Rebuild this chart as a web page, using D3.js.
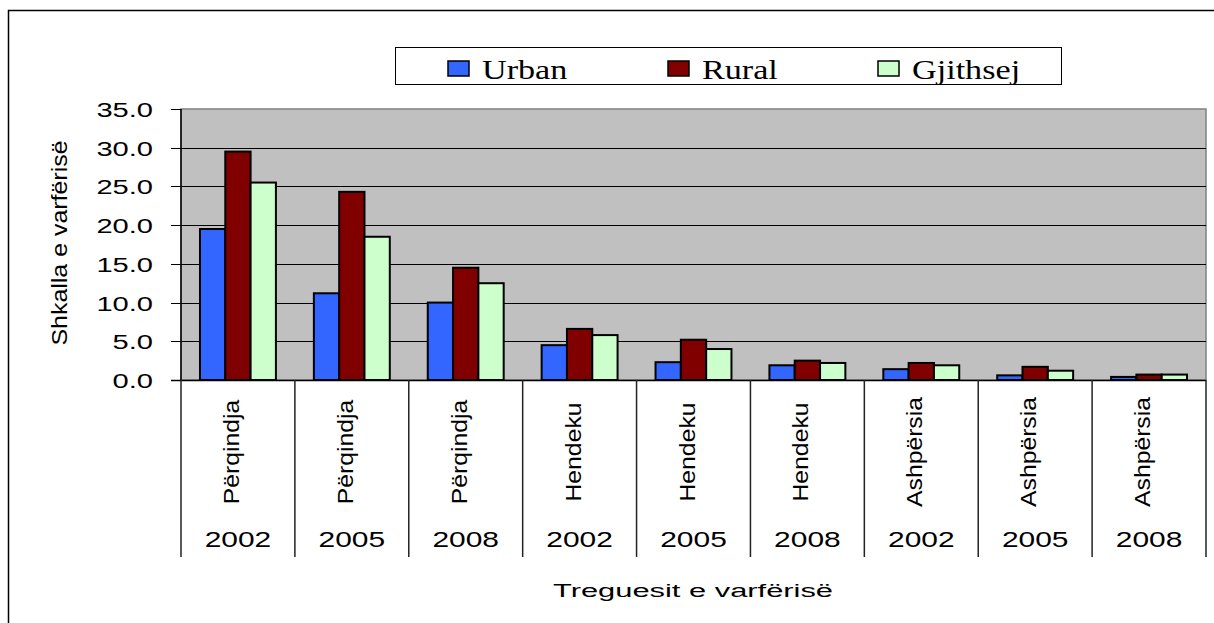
<!DOCTYPE html>
<html>
<head>
<meta charset="utf-8">
<script src="https://cdn.jsdelivr.net/npm/d3@7"></script>
<style>
  body { margin: 0; background: #fff; }
  text { font-family: "Liberation Sans", Arial, sans-serif; fill: #000; }
</style>
</head>
<body>
<svg width="1214" height="623"></svg>
<script>
const svg = d3.select("svg"),
    width = +svg.attr("width"),
    height = +svg.attr("height");

// data
const indicators = ["Përqindja", "Përqindja", "Përqindja", "Hendeku", "Hendeku", "Hendeku", "Ashpërsia", "Ashpërsia", "Ashpërsia"];
const years = ["2002", "2005", "2008", "2002", "2005", "2008", "2002", "2005", "2008"];
const urban = [19.5, 11.2, 10.0, 4.5, 2.3, 1.9, 1.4, 0.6, 0.4];
const rural = [29.5, 24.3, 14.5, 6.6, 5.2, 2.5, 2.2, 1.7, 0.7];
const gjithsej = [25.5, 18.5, 12.5, 5.8, 4.0, 2.2, 1.9, 1.2, 0.7];
const seriesNames = ["Urban", "Rural", "Gjithsej"];
const seriesColors = ["#3366FF", "#800000", "#CCFFCC"];
const yTicks = [0, 5, 10, 15, 20, 25, 30, 35];

const series = [urban, rural, gjithsej];
const idx = d3.range(indicators.length);

const plot = {left: 181, top: 109, right: 1206, bottom: 380};

// outer frame (runs off the page right and bottom)
svg.append("rect")
    .attr("x", 8.5).attr("y", 10.5)
    .attr("width", 1300).attr("height", 700)
    .attr("fill", "none")
    .attr("stroke", "#000")
    .attr("stroke-width", 1.5);

const x = d3.scaleBand()
    .domain(idx)
    .range([plot.left, plot.right])
    .padding(0);

const xSub = d3.scaleBand()
    .domain(d3.range(series.length))
    .range([0, x.bandwidth()])
    .paddingInner(0)
    .paddingOuter(0.75);

const y = d3.scaleLinear()
    .domain([0, 35])
    .range([plot.bottom, plot.top]);

// plot area
svg.append("rect")
    .attr("x", plot.left).attr("y", plot.top)
    .attr("width", plot.right - plot.left)
    .attr("height", plot.bottom - plot.top)
    .attr("fill", "#C0C0C0")
    .attr("stroke", "#808080")
    .attr("stroke-width", 1.5);

// gridlines
svg.append("g")
    .selectAll("line")
    .data(yTicks.filter(d => d > 0 && d < 35))
    .join("line")
        .attr("x1", plot.left).attr("x2", plot.right)
        .attr("y1", d => Math.round(y(d)) + 0.5)
        .attr("y2", d => Math.round(y(d)) + 0.5)
        .attr("stroke", "#000")
        .attr("stroke-width", 1);

// bars
svg.append("g")
    .selectAll("g")
    .data(series)
    .join("g")
        .attr("fill", (d, i) => seriesColors[i])
        .each(function(vals, si) {
            d3.select(this).selectAll("rect")
                .data(vals)
                .join("rect")
                    .attr("x", (d, i) => x(i) + xSub(si))
                    .attr("y", d => y(d))
                    .attr("width", xSub.bandwidth())
                    .attr("height", d => y(0) - y(d))
                    .attr("stroke", "#000")
                    .attr("stroke-width", 2);
        });

// y axis
svg.append("line")
    .attr("x1", plot.left).attr("x2", plot.left)
    .attr("y1", plot.top).attr("y2", plot.bottom)
    .attr("stroke", "#000").attr("stroke-width", 1.5);

const yTickG = svg.append("g")
    .selectAll("g")
    .data(yTicks)
    .join("g")
        .attr("transform", d => `translate(0,${Math.round(y(d)) + 0.5})`);

yTickG.append("line")
    .attr("x1", plot.left - 10).attr("x2", plot.left)
    .attr("stroke", "#000").attr("stroke-width", 1);

yTickG.append("text")
    .attr("transform", "translate(153,0) scale(1.42,1)")
    .attr("text-anchor", "end")
    .attr("dy", "0.35em")
    .style("font-size", "20.5px")
    .text(d => d.toFixed(1));

// x axis line
svg.append("line")
    .attr("x1", plot.left - 10).attr("x2", plot.right)
    .attr("y1", plot.bottom + 0.5).attr("y2", plot.bottom + 0.5)
    .attr("stroke", "#000").attr("stroke-width", 1.5);

// category separators
svg.append("g")
    .selectAll("line")
    .data(d3.range(indicators.length + 1))
    .join("line")
        .attr("x1", d => plot.left + d * x.step())
        .attr("x2", d => plot.left + d * x.step())
        .attr("y1", plot.bottom).attr("y2", 557)
        .attr("stroke", "#222").attr("stroke-width", 1.5);

// rotated indicator labels
svg.append("g")
    .selectAll("text")
    .data(idx)
    .join("text")
        .attr("transform", i => `translate(${x(i) + x.bandwidth() / 2 + 1},452) rotate(-90)`)
        .attr("text-anchor", "middle")
        .style("font-size", "21.5px")
        .text(i => indicators[i])
        .each(function() {
            const len = this.getComputedTextLength();
            d3.select(this)
                .attr("textLength", len * 1.15)
                .attr("lengthAdjust", "spacingAndGlyphs");
        });

// year labels
svg.append("g")
    .selectAll("text")
    .data(idx)
    .join("text")
        .attr("transform", i => `translate(${x(i) + x.bandwidth() / 2},547) scale(1.36,1)`)
        .attr("text-anchor", "middle")
        .style("font-size", "22px")
        .text(i => years[i]);

// axis titles
svg.append("text")
    .attr("x", 693).attr("y", 597)
    .attr("text-anchor", "middle")
    .attr("textLength", 280)
    .attr("lengthAdjust", "spacingAndGlyphs")
    .style("font-size", "18px")
    .text("Treguesit e varfërisë");

svg.append("text")
    .attr("transform", "translate(67,243) rotate(-90)")
    .attr("text-anchor", "middle")
    .attr("textLength", 205)
    .attr("lengthAdjust", "spacingAndGlyphs")
    .style("font-size", "22px")
    .text("Shkalla e varfërisë");

// legend
const legend = svg.append("g");
legend.append("rect")
    .attr("x", 395.5).attr("y", 47.5)
    .attr("width", 666).attr("height", 37)
    .attr("fill", "#fff")
    .attr("stroke", "#000").attr("stroke-width", 1);

const legendX = [448, 668, 878];
const item = legend.selectAll("g.item")
    .data(seriesNames)
    .join("g")
        .attr("class", "item")
        .attr("transform", (d, i) => `translate(${legendX[i]},0)`);

item.append("rect")
    .attr("x", 0).attr("y", 61)
    .attr("width", 21).attr("height", 15)
    .attr("fill", (d, i) => seriesColors[i])
    .attr("stroke", "#000").attr("stroke-width", 1.5);

item.append("text")
    .attr("transform", "translate(34,79) scale(1.22,1)")
    .style("font-family", "'Liberation Serif', 'Times New Roman', serif")
    .style("font-size", "28px")
    .text(d => d);
</script>
</body>
</html>
